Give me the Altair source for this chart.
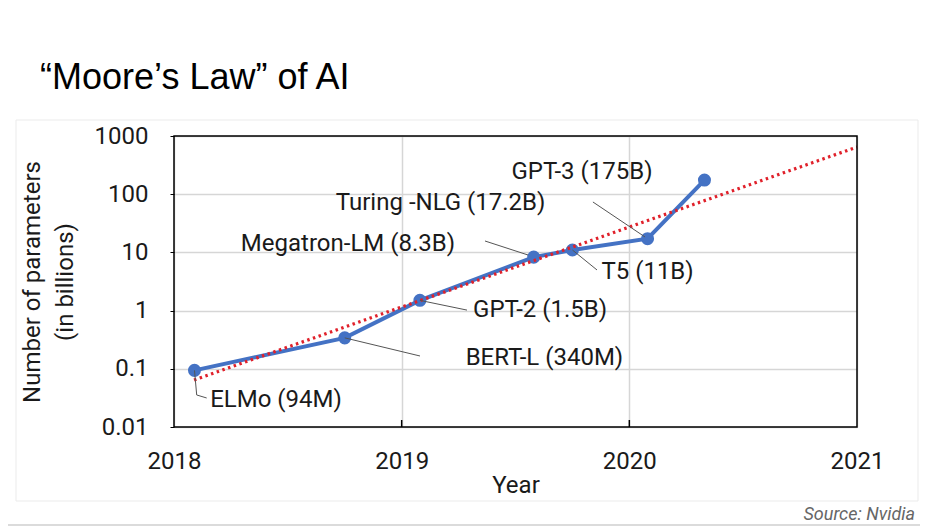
import altair as alt
import pandas as pd

# ---- data ----
models = ["ELMo", "BERT-L", "GPT-2", "Megatron-LM", "T5", "Turing-NLG", "GPT-3"]
years = [2018.09, 2018.75, 2019.08, 2019.58, 2019.75, 2020.08, 2020.33]
params = [0.094, 0.34, 1.5, 8.3, 11, 17.2, 175]

labels = ["ELMo (94M)", "BERT-L (340M)", "GPT-2 (1.5B)", "Megatron-LM (8.3B)",
          "T5 (11B)", "Turing -NLG (17.2B)", "GPT-3 (175B)"]
label_x = [2018.448, 2019.627, 2019.608, 2018.764, 2020.08, 2019.171, 2019.792]
label_y = [0.0294, 0.156, 1.02, 13.9, 4.66, 72, 240]

leader_id = ["ELMo", "ELMo", "ELMo", "BERT", "BERT", "GPT2", "GPT2",
             "Mega", "Mega", "T5", "T5", "Turing", "Turing"]
leader_ord = [0, 1, 2, 0, 1, 0, 1, 0, 1, 0, 1, 0, 1]
leader_x = [2018.09, 2018.0997, 2018.1436, 2018.75, 2019.0805, 2019.08, 2019.287,
            2019.366, 2019.555, 2019.75, 2019.858, 2019.840, 2020.069]
leader_y = [0.094, 0.0355, 0.0315, 0.34, 0.166, 1.5, 1.02,
            15.7, 9.02, 11, 4.99, 73.5, 18.4]

trend_x = [2018.088, 2021.0]
trend_y = [0.0642, 647]

x_ticks = [2018, 2019, 2020, 2021]
y_ticks = [0.01, 0.1, 1, 10, 100, 1000]

W, H = 683, 291
FONT = "Roboto"
TXT = "#1a1a1a"

pts = pd.DataFrame({"x": years, "y": params, "model": models})
lab = pd.DataFrame({"x": label_x, "y": label_y, "label": labels})
lead = pd.DataFrame({"x": leader_x, "y": leader_y, "id": leader_id, "o": leader_ord})
trend = pd.DataFrame({"x": trend_x, "y": trend_y})
one = pd.DataFrame({"a": [1]})

xs = alt.Scale(domain=[2018, 2021], nice=False, zero=False)
ys = alt.Scale(type="log", domain=[0.01, 1000], nice=False)

line = alt.Chart(pts).mark_line(color="#4472c4", strokeWidth=4).encode(
    x=alt.X("x:Q", scale=xs, title="Year",
            axis=alt.Axis(values=x_ticks, format="d", grid=True, ticks=False,
                          domain=False, labelPadding=22, labelFlush=False,
                          labelOverlap=False, titlePadding=0,
                          labelFont=FONT, labelFontSize=24, labelColor=TXT,
                          titleFont=FONT, titleFontSize=24, titleColor=TXT,
                          titleFontWeight="normal",
                          gridColor="#d6d6d6", gridWidth=1.5)),
    y=alt.Y("y:Q", scale=ys, title=["Number of parameters", "(in billions)"],
            axis=alt.Axis(values=y_ticks, format="~g", grid=True, ticks=True,
                          tickSize=4, tickColor="#000", domain=False,
                          labelPadding=22, labelFlush=False, labelOverlap=False,
                          titlePadding=17, titleLineHeight=33,
                          labelFont=FONT, labelFontSize=24, labelColor=TXT,
                          titleFont=FONT, titleFontSize=24, titleColor=TXT,
                          titleFontWeight="normal",
                          gridColor="#d6d6d6", gridWidth=1.5)),
)
points = alt.Chart(pts).mark_circle(color="#4472c4", size=170, opacity=1).encode(
    x="x:Q", y="y:Q")
tr = alt.Chart(trend).mark_line(color="#e0212b", strokeWidth=3.2,
                                strokeDash=[2.5, 3.5]).encode(x="x:Q", y="y:Q")
leaders = alt.Chart(lead).mark_line(color="#555555", strokeWidth=1).encode(
    x="x:Q", y="y:Q", detail="id:N", order="o:Q")
texts = alt.Chart(lab).mark_text(font=FONT, fontSize=24, color=TXT,
                                 align="center", baseline="middle").encode(
    x="x:Q", y="y:Q", text="label:N")

frame = alt.Chart(one).mark_rect(fill=None, stroke="#000", strokeWidth=1.5).encode(
    x=alt.value(0), x2=alt.value(W), y=alt.value(0), y2=alt.value(H))
xtick = alt.Chart(pd.DataFrame({"x": [2019, 2020]})).mark_rule(
    color="#000", strokeWidth=1.5).encode(x="x:Q", y=alt.value(H), y2=alt.value(H - 7))
outer = alt.Chart(one).mark_rect(fill=None, stroke="#ebebeb", strokeWidth=1).encode(
    x=alt.value(-158), x2=alt.value(744), y=alt.value(-16), y2=alt.value(365))
bottom_line = alt.Chart(one).mark_rule(color="#cfcfcf", strokeWidth=1.5).encode(
    x=alt.value(-166), x2=alt.value(746), y=alt.value(389))
title = alt.Chart(one).mark_text(text="“Moore’s Law” of AI", font="Liberation Sans",
                                 fontSize=36, color="#000", align="left",
                                 baseline="alphabetic").encode(
    x=alt.value(-134), y=alt.value(-47))
source = alt.Chart(one).mark_text(text="Source: Nvidia", font=FONT, fontSize=18,
                                  fontStyle="italic", color="#666",
                                  align="right", baseline="alphabetic").encode(
    x=alt.value(741), y=alt.value(384))

chart = alt.layer(outer, bottom_line, title, source, line, points, tr, leaders,
                  texts, xtick, frame).properties(
    width=W, height=H,
    padding={"left": 166, "top": 128, "right": 63, "bottom": 99},
    autosize=alt.AutoSizeParams(type="none"),
    background="white",
).configure_view(stroke=None)

chart.save("out.html", embed_options={"renderer": "svg", "actions": False})
